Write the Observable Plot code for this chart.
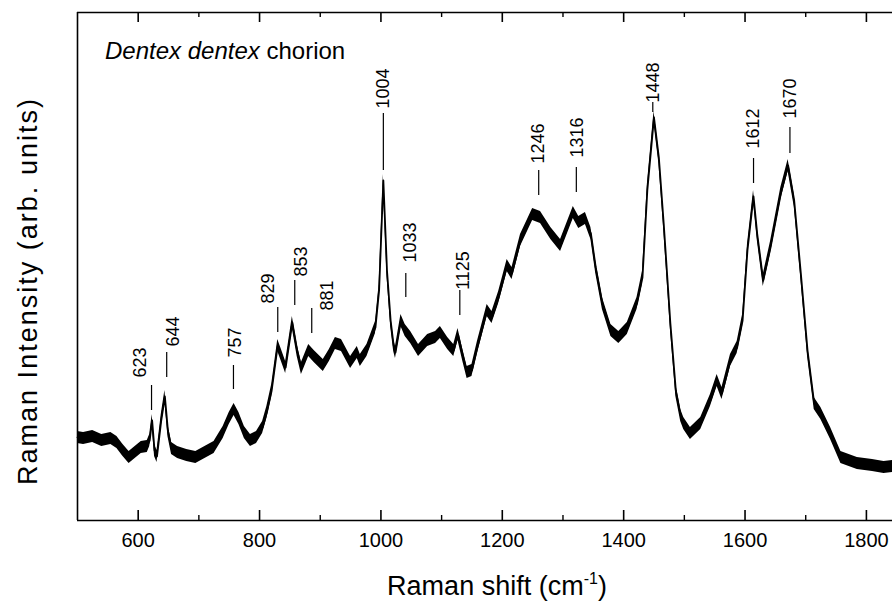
<!DOCTYPE html>
<html>
<head>
<meta charset="utf-8">
<script src="https://cdn.jsdelivr.net/npm/d3@7"></script>
<script src="https://cdn.jsdelivr.net/npm/@observablehq/plot@0.6"></script>
<style>
  html, body { margin: 0; padding: 0; background: #fff; }
  #chart svg { display: block; }
</style>
</head>
<body>
<div id="chart"></div>
<script>
// Raman shift (cm^-1) and intensity (arb. units)
const wavenumber = [500,510,525,540,555,565,575,585,595,605,615,619,623,627,631,638,644,649,655,665,680,695,710,725,740,750,758,766,775,785,795,805,812,820,830,836,843,854,862,869,881,890,905,915,925,935,950,961,966,977,991,997,1004,1010,1016,1021,1024,1033,1040,1049,1062,1077,1090,1098,1110,1120,1127,1135,1142,1150,1159,1175,1183,1194,1208,1216,1230,1250,1263,1280,1296,1317,1326,1337,1346,1354,1365,1379,1392,1406,1422,1431,1439,1450,1458,1466,1477,1486,1494,1499,1510,1527,1543,1554,1562,1576,1587,1596,1604,1614,1620,1630,1642,1659,1671,1681,1692,1703,1714,1725,1741,1758,1785,1810,1829,1843];
const intensity = [83,82,84,80,82,78,70,63,68,73,74,80,100,70,64,100,124,90,72,68,65,63,68,73,88,102,111,102,88,80,83,93,108,130,175,165,153,198,170,152,170,164,155,165,177,175,158,168,160,170,193,230,340,250,200,175,168,200,190,183,170,180,183,188,177,170,186,165,148,150,173,210,203,223,255,247,280,306,303,287,275,308,298,302,287,253,217,190,183,192,217,243,330,403,363,297,197,130,105,97,87,97,120,140,127,160,173,200,270,324,287,240,273,327,355,320,247,170,117,107,87,63,57,55,53,54];

// Peak annotations
const peakLabels = ["623","644","757","829","853","881","1004","1033","1125","1246","1316","1448","1612","1670"];
const peakLineX  = [622,647,757,830,858,886,1004,1041,1130,1260,1322,1448,1614,1674];
const peakLineLo = [110,143,131,188,215,187,350,223,205,325,328,408,337,367];
const peakLineHi = [135,168,155,213,240,212,407,247,230,350,353,418,362,393];
const peakLabelX = [604,657,760,815,869,912,1003,1049,1135,1260,1324,1448,1613,1674];
const peakLabelY = [158,189,178,232,259,225,432,278,250,377,383,438,392,422];

const xMajor = [600,800,1000,1200,1400,1600,1800];
const xMinor = [700,900,1100,1300,1500,1700];

const spectrum = wavenumber.map((w, k) => ({w, i: intensity[k]}));
const peaks = peakLabels.map((t, k) => ({
  t, lx: peakLineX[k], lo: peakLineLo[k], hi: peakLineHi[k], tx: peakLabelX[k], ty: peakLabelY[k]
}));

const font = "'Liberation Sans', Arial, Helvetica, sans-serif";
const band = 6;

const chart = Plot.plot({
  width: 892,
  height: 601,
  marginLeft: 77,
  marginRight: 0,
  marginTop: 12,
  marginBottom: 81,
  style: {fontFamily: font, color: "black", background: "white"},
  x: {domain: [500, 1843], label: null},
  y: {domain: [0, 508], axis: null},
  marks: [
    Plot.areaY(spectrum, {x: "w", y1: d => d.i - band, y2: d => d.i + band, fill: "black"}),
    Plot.line(spectrum, {x: "w", y: "i", stroke: "black", strokeWidth: 1.8}),
    Plot.ruleX(peaks, {x: "lx", y1: "lo", y2: "hi", stroke: "black", strokeWidth: 1.2}),
    Plot.text(peaks, {x: "tx", y: "ty", text: "t", rotate: -90, fontSize: 18, fill: "black"}),
    // frame
    Plot.ruleY([0, 508], {stroke: "black", strokeWidth: 1.6}),
    Plot.ruleX([500], {stroke: "black", strokeWidth: 1.6}),
    // inward ticks bottom & top
    Plot.ruleX(xMajor, {y1: 0, y2: 10, stroke: "black", strokeWidth: 1.6}),
    Plot.ruleX(xMinor, {y1: 0, y2: 5, stroke: "black", strokeWidth: 1.4}),
    Plot.ruleX(xMajor, {y1: 508, y2: 498, stroke: "black", strokeWidth: 1.6}),
    Plot.ruleX(xMinor, {y1: 508, y2: 503, stroke: "black", strokeWidth: 1.4}),
    Plot.axisX(xMajor, {tickSize: 0, tickPadding: 12, fontSize: 20, label: null, fill: "black", tickFormat: d => String(d)})
  ]
});

const svg = d3.select(chart);

// title with italic species name
const title = svg.append("text")
  .attr("x", 105).attr("y", 59)
  .attr("text-anchor", "start")
  .attr("font-family", font).attr("font-size", 24).attr("fill", "black");
title.append("tspan").attr("font-style", "italic").text("Dentex dentex");
title.append("tspan").text(" chorion");

// x axis title
const xt = svg.append("text")
  .attr("x", 497).attr("y", 595)
  .attr("text-anchor", "middle")
  .attr("font-family", font).attr("font-size", 27).attr("fill", "black");
xt.append("tspan").text("Raman shift (cm");
xt.append("tspan").attr("font-size", 16).attr("dy", -11).text("-1");
xt.append("tspan").attr("dy", 11).text(")");

// y axis title
svg.append("text")
  .attr("transform", "translate(37,292) rotate(-90)")
  .attr("text-anchor", "middle")
  .attr("font-family", font).attr("font-size", 27).attr("fill", "black")
  .attr("textLength", 386).attr("lengthAdjust", "spacing")
  .text("Raman Intensity (arb. units)");

document.getElementById("chart").appendChild(chart);
</script>
</body>
</html>
